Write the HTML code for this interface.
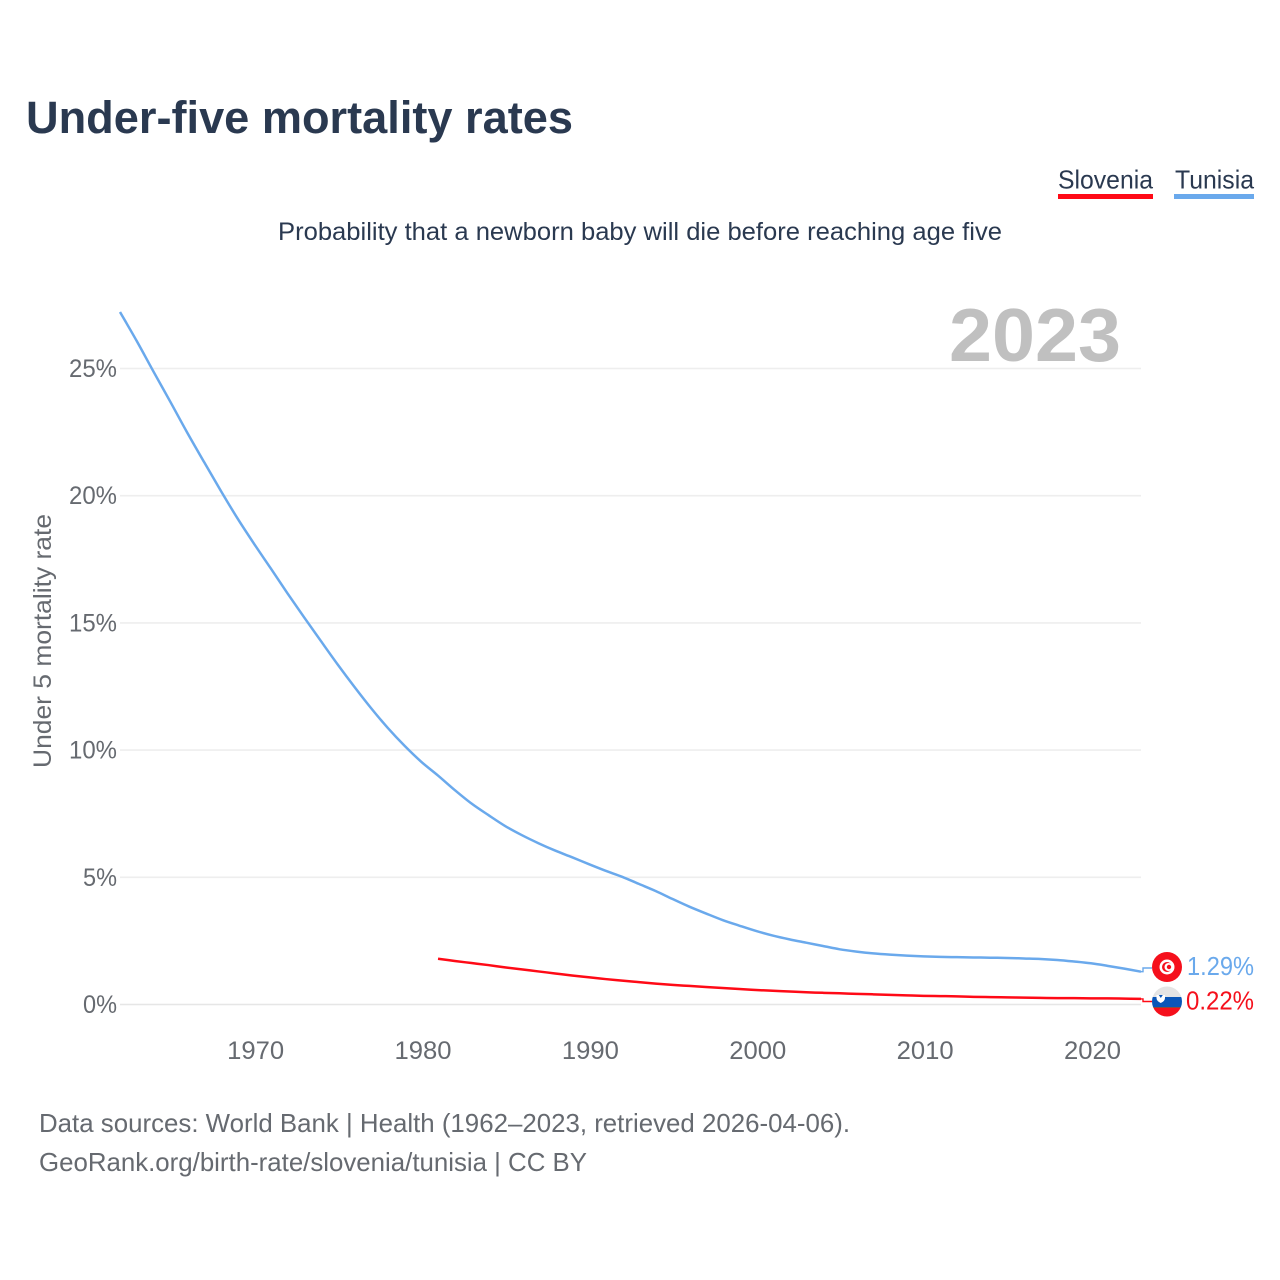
<!DOCTYPE html>
<html lang="en">
<head>
<meta charset="utf-8">
<title>Under-five mortality rates</title>
<style>
html,body{margin:0;padding:0;background:#fff;}
svg{display:block;font-family:"Liberation Sans","DejaVu Sans",sans-serif;}
</style>
</head>
<body>
<svg id="chart" xmlns="http://www.w3.org/2000/svg" width="1280" height="1280" viewBox="0 0 1280 1280">
  <rect x="0" y="0" width="1280" height="1280" fill="#ffffff"/>
  <text x="26" y="133" font-size="45" font-weight="700" fill="#2a3950" textLength="547" lengthAdjust="spacingAndGlyphs">Under-five mortality rates</text>
  <g>
    <text x="1058" y="188.500" font-size="26" fill="#2a3950" textLength="95" lengthAdjust="spacingAndGlyphs">Slovenia</text>
    <rect x="1058" y="194" width="95" height="5" fill="#ff0a16"/>
  </g>
  <g>
    <text x="1175" y="188.500" font-size="26" fill="#2a3950" textLength="79" lengthAdjust="spacingAndGlyphs">Tunisia</text>
    <rect x="1174" y="194" width="80" height="5" fill="#6aa9ec"/>
  </g>
  <text x="278" y="240" font-size="25" fill="#2a3950" textLength="724" lengthAdjust="spacingAndGlyphs">Probability that a newborn baby will die before reaching age five</text>
  <text transform="translate(51,641) rotate(-90)" text-anchor="middle" font-size="25" fill="#666a70" textLength="254" lengthAdjust="spacingAndGlyphs">Under 5 mortality rate</text>
  <g id="grid"></g>
  <g id="y-ticks"></g>
  <g id="x-ticks"></g>
  <text x="949" y="361" font-size="75" font-weight="700" fill="#c0c0c0" textLength="172" lengthAdjust="spacingAndGlyphs">2023</text>
  <g id="series"></g>
  <defs>
    <clipPath id="flag-clip-si"><circle cx="1167" cy="1001.5" r="15"/></clipPath>
  </defs>
  <g>
    <circle cx="1167" cy="967" r="15" fill="#f5101c"/>
    <circle cx="1167" cy="967" r="7.5" fill="#ffffff"/>
    <circle cx="1167" cy="967" r="5" fill="#f5101c"/>
    <circle cx="1168.5" cy="967" r="4" fill="#ffffff"/>
    <circle cx="1169" cy="967" r="2.2" fill="#f5101c"/>
  </g>
  <g clip-path="url(#flag-clip-si)">
    <rect x="1152" y="986.5" width="30" height="10.5" fill="#e4e4e4"/>
    <rect x="1152" y="997" width="30" height="10" fill="#0a56b8"/>
    <rect x="1152" y="1007" width="30" height="1" fill="#8a4a3a"/>
    <rect x="1152" y="1008" width="30" height="9" fill="#f5101c"/>
    <path d="M1156.500 995h8.500v3q0 3-4.250 5q-4.250-2-4.250-5z" fill="#ffffff"/>
    <path d="M1158.800 995h4l-2 3z" fill="#0a56b8"/>
  </g>
  <g id="end-labels"></g>
  <text x="39" y="1132" font-size="26" fill="#666a70" textLength="811" lengthAdjust="spacingAndGlyphs">Data sources: World Bank | Health (1962–2023, retrieved 2026-04-06).</text>
  <text x="39" y="1171" font-size="26" fill="#666a70" textLength="548" lengthAdjust="spacingAndGlyphs">GeoRank.org/birth-rate/slovenia/tunisia | CC BY</text>
</svg>
<script>
const yTickValues = [0, 5, 10, 15, 20, 25];
const xTickYears = [1970, 1980, 1990, 2000, 2010, 2020];
const tunisiaStartYear = 1962;
const tunisiaValues = [27.22, 26.08, 24.88, 23.7, 22.5, 21.35, 20.22, 19.13, 18.12, 17.15,
  16.17, 15.22, 14.29, 13.37, 12.49, 11.65, 10.87, 10.17, 9.54, 9.0,
  8.43, 7.9, 7.45, 7.02, 6.66, 6.34, 6.05, 5.79, 5.52, 5.26,
  5.02, 4.74, 4.46, 4.15, 3.85, 3.58, 3.32, 3.1, 2.89, 2.71,
  2.56, 2.43, 2.3, 2.17, 2.08, 2.01, 1.96, 1.92, 1.89, 1.87,
  1.86, 1.85, 1.84, 1.83, 1.81, 1.79, 1.75, 1.69, 1.62, 1.52, 1.41, 1.29];
const sloveniaStartYear = 1981;
const sloveniaValues = [1.8, 1.71, 1.63, 1.55, 1.46, 1.38, 1.3, 1.22, 1.14, 1.07,
  1.0, 0.94, 0.88, 0.82, 0.77, 0.73, 0.69, 0.65, 0.61, 0.57,
  0.54, 0.51, 0.48, 0.46, 0.44, 0.42, 0.4, 0.38, 0.36, 0.34,
  0.33, 0.32, 0.3, 0.29, 0.28, 0.27, 0.26, 0.25, 0.25, 0.24, 0.24, 0.23, 0.22];

const NS = 'http://www.w3.org/2000/svg';
const x = year => 120 + (year - 1962) * (1141 - 120) / 61;
const y = v => 1004.5 - v * 25.44;
function make(tag, attrs, parent, text) {
  const el = document.createElementNS(NS, tag);
  for (const k in attrs) el.setAttribute(k, attrs[k]);
  if (text !== undefined) el.textContent = text;
  parent.appendChild(el);
  return el;
}
const grid = document.getElementById('grid');
const yTicks = document.getElementById('y-ticks');
const xTicks = document.getElementById('x-ticks');
const series = document.getElementById('series');
const endLabels = document.getElementById('end-labels');

yTickValues.forEach(v => {
  const line = make('line', {x1: 120, x2: 1141, y1: y(v), y2: y(v), stroke: v === 0 ? '#e6e6e6' : '#eeeeee', 'stroke-width': 1.6}, grid);
  
  
  const txt = v + '%';
  const label = make('text', {x: 117, y: y(v) + 8.5, 'text-anchor': 'end', 'font-size': 25, fill: '#666a70', textLength: txt.length === 3 ? 48 : 34, lengthAdjust: 'spacingAndGlyphs'}, yTicks, txt);
  
  
});
xTickYears.forEach(t => {
  const label = make('text', {x: x(t) + 1.7, y: 1059, 'text-anchor': 'middle', 'font-size': 25, fill: '#666a70', textLength: 57, lengthAdjust: 'spacingAndGlyphs'}, xTicks, String(t));
  
  
});
// Smooth curve through the yearly points (Catmull-Rom to Bezier)
function smoothPath(start, values) {
  const p = values.map((v, i) => [x(start + i), y(v)]);
  let d = 'M' + p[0][0].toFixed(2) + ' ' + p[0][1].toFixed(2);
  for (let i = 0; i < p.length - 1; i++) {
    const p0 = p[Math.max(i - 1, 0)], p1 = p[i], p2 = p[i + 1], p3 = p[Math.min(i + 2, p.length - 1)];
    const c1x = p1[0] + (p2[0] - p0[0]) / 6, c1y = p1[1] + (p2[1] - p0[1]) / 6;
    const c2x = p2[0] - (p3[0] - p1[0]) / 6, c2y = p2[1] - (p3[1] - p1[1]) / 6;
    d += 'C' + [c1x, c1y, c2x, c2y, p2[0], p2[1]].map(n => n.toFixed(2)).join(' ');
  }
  return d;
}
const tunisiaLine = make('path', {d: smoothPath(tunisiaStartYear, tunisiaValues), fill: 'none', stroke: '#6aa9ec', 'stroke-width': 2.5, 'stroke-linejoin': 'round'}, series);


const sloveniaLine = make('path', {d: smoothPath(sloveniaStartYear, sloveniaValues), fill: 'none', stroke: '#ff0a16', 'stroke-width': 2.5, 'stroke-linejoin': 'round'}, series);



const tEnd = tunisiaValues[tunisiaValues.length - 1];
const sEnd = sloveniaValues[sloveniaValues.length - 1];
const tConn = make('polyline', {points: `1141,${y(tEnd)} 1143,${y(tEnd)} 1143,968 1152,968`, fill: 'none', stroke: '#6aa9ec', 'stroke-width': 1.4}, series);


const sConn = make('polyline', {points: `1141,${y(sEnd)} 1143,${y(sEnd)} 1143,1001.500 1152,1001.500`, fill: 'none', stroke: '#ff0a16', 'stroke-width': 1.4}, series);



const tLabel = make('text', {x: 1187, y: 975, 'font-size': 26, fill: '#6aa9ec', textLength: 67, lengthAdjust: 'spacingAndGlyphs'}, endLabels, tEnd.toFixed(2) + '%');


const sLabel = make('text', {x: 1186, y: 1009.500, 'font-size': 26, fill: '#f5101c', textLength: 68, lengthAdjust: 'spacingAndGlyphs'}, endLabels, sEnd.toFixed(2) + '%');


</script>
</body>
</html>
